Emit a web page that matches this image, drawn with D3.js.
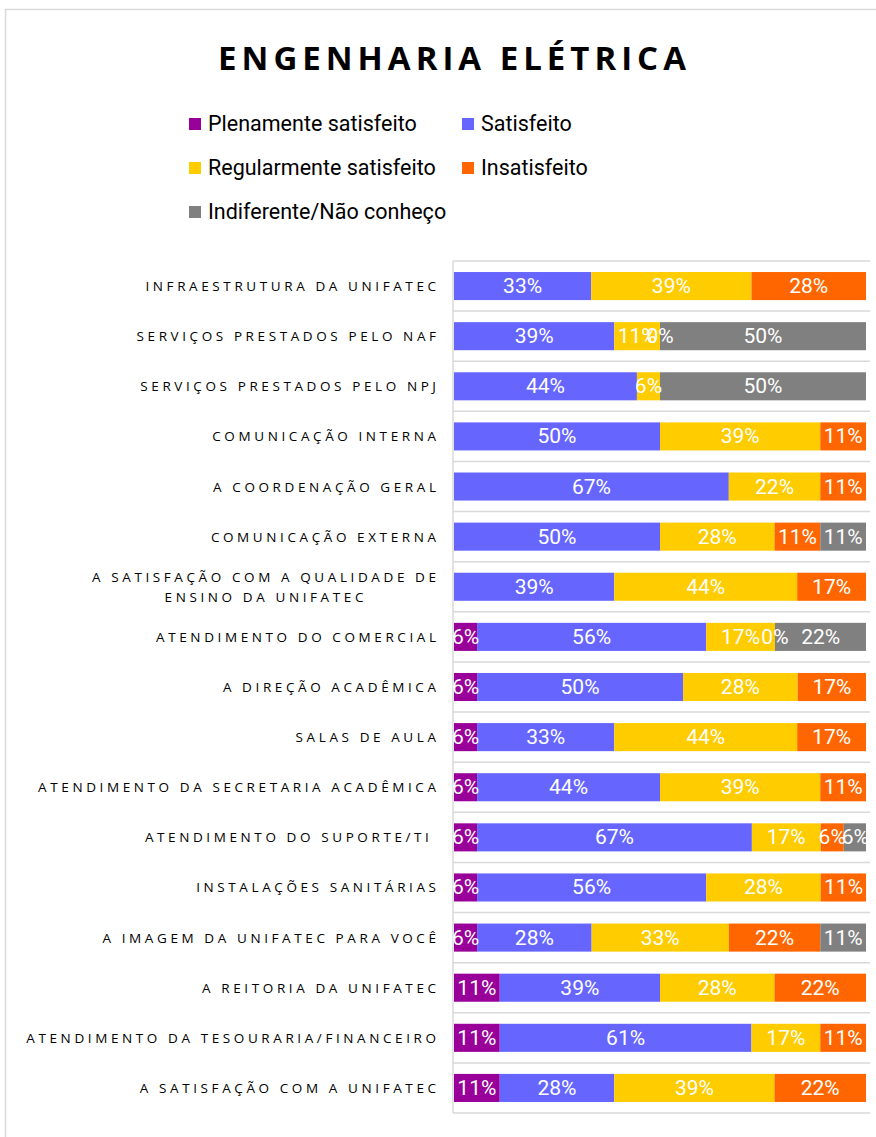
<!DOCTYPE html>
<html>
<head>
<meta charset="utf-8">
<script src="https://cdn.jsdelivr.net/npm/d3@7"></script>
<style>
  html, body { margin: 0; padding: 0; background: #fff; }
  svg { display: block; }
  text { white-space: pre; }
</style>
</head>
<body>
<svg id="chart" width="876" height="1137"></svg>
<script>
const title = "ENGENHARIA ELÉTRICA";
const categories = [
  "INFRAESTRUTURA DA UNIFATEC",
  "SERVIÇOS PRESTADOS PELO NAF",
  "SERVIÇOS PRESTADOS PELO NPJ",
  "COMUNICAÇÃO INTERNA",
  "A COORDENAÇÃO GERAL",
  "COMUNICAÇÃO EXTERNA",
  "A SATISFAÇÃO COM A QUALIDADE DE|ENSINO DA UNIFATEC",
  "ATENDIMENTO DO COMERCIAL",
  "A DIREÇÃO ACADÊMICA",
  "SALAS DE AULA",
  "ATENDIMENTO DA SECRETARIA ACADÊMICA",
  "ATENDIMENTO DO SUPORTE/TI ",
  "INSTALAÇÕES SANITÁRIAS",
  "A IMAGEM DA UNIFATEC PARA VOCÊ",
  "A REITORIA DA UNIFATEC",
  "ATENDIMENTO DA TESOURARIA/FINANCEIRO",
  "A SATISFAÇÃO COM A UNIFATEC"
];
const seriesNames = ["Plenamente satisfeito", "Satisfeito", "Regularmente satisfeito", "Insatisfeito", "Indiferente/Não conheço"];
const seriesColors = ["#990099", "#6666FF", "#FFCC00", "#FF6600", "#808080"];
// values in percent, null = no value
const plenamente   = [null, null, null, null, null, null, null, 5.6, 5.6, 5.6, 5.6, 5.6, 5.6, 5.6, 11.1, 11.1, 11.1];
const satisfeito   = [33.3, 38.9, 44.4, 50.0, 66.7, 50.0, 38.9, 55.6, 50.0, 33.3, 44.4, 66.7, 55.6, 27.8, 38.9, 61.1, 27.8];
const regularmente = [38.9, 11.1, 5.6, 38.9, 22.2, 27.8, 44.4, 16.7, 27.8, 44.4, 38.9, 16.7, 27.8, 33.3, 27.8, 16.7, 38.9];
const insatisfeito = [27.8, 0, null, 11.1, 11.1, 11.1, 16.7, 0, 16.7, 16.7, 11.1, 5.6, 11.1, 22.2, 22.2, 11.1, 22.2];
const indiferente  = [null, 50.0, 50.0, null, null, 11.1, null, 22.2, null, null, null, 5.6, null, 11.1, null, null, null];
const seriesValues = [plenamente, satisfeito, regularmente, insatisfeito, indiferente];

const svg = d3.select("#chart");

// chart border (cropped on right/bottom)
svg.append("rect").attr("x", 5.5).attr("y", 9.5).attr("width", 900).attr("height", 1200)
  .attr("fill", "#fff").attr("stroke", "#d9d9d9").attr("stroke-width", 1.5);

// title
svg.append("text").attr("x", 452 + 2.5).attr("y", 70).attr("text-anchor", "middle")
  .attr("font-family", "'Open Sans', 'Liberation Sans', sans-serif").attr("font-weight", "bold")
  .attr("font-size", 33).attr("letter-spacing", "5px").attr("fill", "#000")
  .text(title);

// legend
const legendPos = [[189, 124], [462, 124], [189, 168], [462, 168], [189, 212]];
const lg = svg.append("g");
seriesNames.forEach((name, i) => {
  const [lx, ly] = legendPos[i];
  lg.append("rect").attr("x", lx).attr("y", ly - 6).attr("width", 12).attr("height", 12).attr("fill", seriesColors[i]);
  lg.append("text").attr("x", lx + 19).attr("y", ly + 7)
    .attr("font-family", "'Roboto', sans-serif")
    .attr("font-size", 21.5).attr("fill", "#000").text(name);
});

// scales
const x0 = 454, x1 = 866;
const x = d3.scaleLinear().domain([0, 100]).range([x0, x1]);
const pad = 0.44;
const y = d3.scaleBand().domain(categories).range([261, 1113]).paddingInner(pad).paddingOuter(pad / 2);
const step = y.step();

// gridlines at band boundaries
const grid = svg.append("g");
const bounds = categories.map(c => y(c) - step * pad / 2).concat([1113]);
grid.selectAll("line.h").data(bounds).join("line")
  .attr("x1", 453).attr("x2", 870)
  .attr("y1", d => d).attr("y2", d => d)
  .attr("stroke", "#d9d9d9").attr("stroke-width", 1.5);
grid.append("line").attr("x1", 453).attr("x2", 453).attr("y1", 261).attr("y2", 1113)
  .attr("stroke", "#d9d9d9").attr("stroke-width", 1.5);

// stacked bars
const rows = categories.map((c, i) => {
  let acc = 0;
  return seriesValues.map((s, k) => {
    const v = s[i];
    const seg = { cat: c, k, v, start: acc };
    if (v != null) acc += v;
    return seg;
  });
});
const segs = rows.flat().filter(d => d.v != null);
const fmt = d => d3.format(".0%")(d / 100);

svg.append("g").selectAll("rect").data(segs).join("rect")
  .attr("x", d => x(d.start))
  .attr("y", d => y(d.cat))
  .attr("width", d => Math.max(0, Math.min(x(d.start + d.v), x1) - x(d.start)))
  .attr("height", y.bandwidth())
  .attr("fill", d => seriesColors[d.k]);

svg.append("g").selectAll("text").data(segs).join("text")
  .attr("x", d => (x(d.start) + x(d.start + d.v)) / 2)
  .attr("y", d => y(d.cat) + y.bandwidth() / 2 + 7)
  .attr("text-anchor", "middle")
  .attr("font-family", "'Roboto', sans-serif")
  .attr("font-size", 21).attr("fill", "#fff")
  .text(d => fmt(d.v));

// category labels
const ls = 3.6;
const lab = svg.append("g");
categories.forEach(c => {
  const lines = c.split("|");
  const cy = y(c) + y.bandwidth() / 2;
  const lh = 20;
  const ts = lines.map((ln, j) => lab.append("text")
      .attr("y", cy + 5 + (j - (lines.length - 1) / 2) * lh)
      .attr("font-family", "'Open Sans', 'Liberation Sans', sans-serif")
      .attr("font-size", 13.5).attr("letter-spacing", ls + "px").attr("fill", "#000")
      .text(ln));
  if (lines.length > 1) {
    const wmax = d3.max(ts, t => t.node().getComputedTextLength());
    ts.forEach(t => t.attr("text-anchor", "middle").attr("x", 436 + ls - wmax / 2));
  } else {
    ts[0].attr("text-anchor", "end").attr("x", 436 + ls);
  }
});
</script>
</body>
</html>
